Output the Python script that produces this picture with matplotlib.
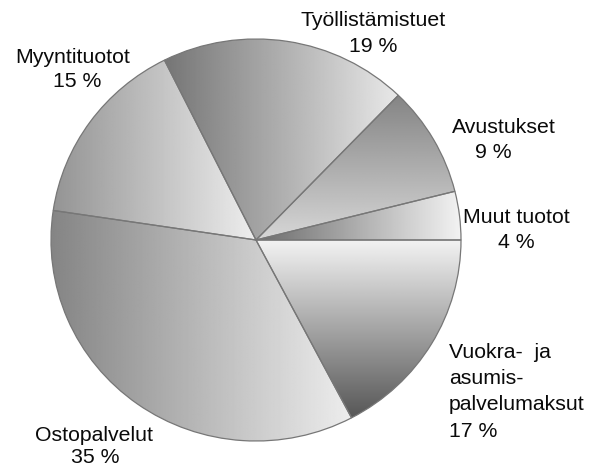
import numpy as np
import matplotlib
matplotlib.use('Agg')
import matplotlib.pyplot as plt

# ---- data ----
categories = ['Muut tuotot', 'Avustukset', 'Työllistämistuet', 'Myyntituotot',
              'Ostopalvelut', 'Vuokra-  ja\nasumis-\npalvelumaksut']
shares = [3.9, 8.9, 19.6, 15.3, 35.1, 17.3]
pct_labels = ['4 %', '9 %', '19 %', '15 %', '35 %', '17 %']

# ---- style / layout ----
W, H = 598, 468
CX, CY = 256, 240          # pie centre in pixels (from top-left)
RX, RY = 205, 201          # radii in pixels
# gradient per slice: (axis, value at min, value at max)  (gray 0..1)
grads = [('x', 0.42, 0.95),
         ('y', 0.84, 0.52),
         ('x', 0.46, 0.91),
         ('x', 0.58, 0.93),
         ('x', 0.52, 0.93),
         ('y', 0.34, 0.95)]
# label line positions (x px, baseline px, ha)
label_pos = [
    [(516, 223, 'center'), (516, 248, 'center')],
    [(504, 133, 'center'), (493, 158, 'center')],
    [(373, 26, 'center'), (373, 52, 'center')],
    [(73, 63, 'center'), (77, 87, 'center')],
    [(94, 441, 'center'), (95, 463, 'center')],
    [(449, 358, 'left'), (449, 384, 'left'), (449, 410, 'left'), (449, 437, 'left')],
]

fig = plt.figure(figsize=(W / 100, H / 100), dpi=100)
fig.patch.set_facecolor('white')
ax = fig.add_axes([0, 0, 1, 1])

wedges, _ = ax.pie(shares, startangle=0, counterclock=True, radius=1,
                   center=(0, 0),
                   wedgeprops=dict(facecolor='none', edgecolor='#777777',
                                   linewidth=0.9))

for w, (axis, a, b) in zip(wedges, grads):
    t = np.radians(np.linspace(w.theta1, w.theta2, 200))
    xs = np.concatenate([[0], np.cos(t)])
    ys = np.concatenate([[0], np.sin(t)])
    x0, x1, y0, y1 = xs.min(), xs.max(), ys.min(), ys.max()
    if axis == 'x':
        g = np.linspace(a, b, 256)[None, :]
    else:
        g = np.linspace(a, b, 256)[:, None]
    im = ax.imshow(g, extent=[x0, x1, y0, y1], origin='lower', cmap='gray',
                   vmin=0, vmax=1, aspect='auto', interpolation='bilinear',
                   zorder=0)
    im.set_clip_path(w)

ax.set_aspect('auto')
ax.set_xlim(-CX / RX, (W - CX) / RX)
ax.set_ylim((CY - H) / RY, CY / RY)
ax.axis('off')

font = dict(family=['Liberation Sans', 'DejaVu Sans'], size=15.3, color='#0a0a0a')
for cat, pct, poss in zip(categories, pct_labels, label_pos):
    lines = cat.split('\n') + [pct]
    for txt, (px, py, ha) in zip(lines, poss):
        fig.text(px / W, 1 - py / H, txt, ha=ha, va='baseline', **font)

fig.savefig('out.png', dpi=100, facecolor='white')
